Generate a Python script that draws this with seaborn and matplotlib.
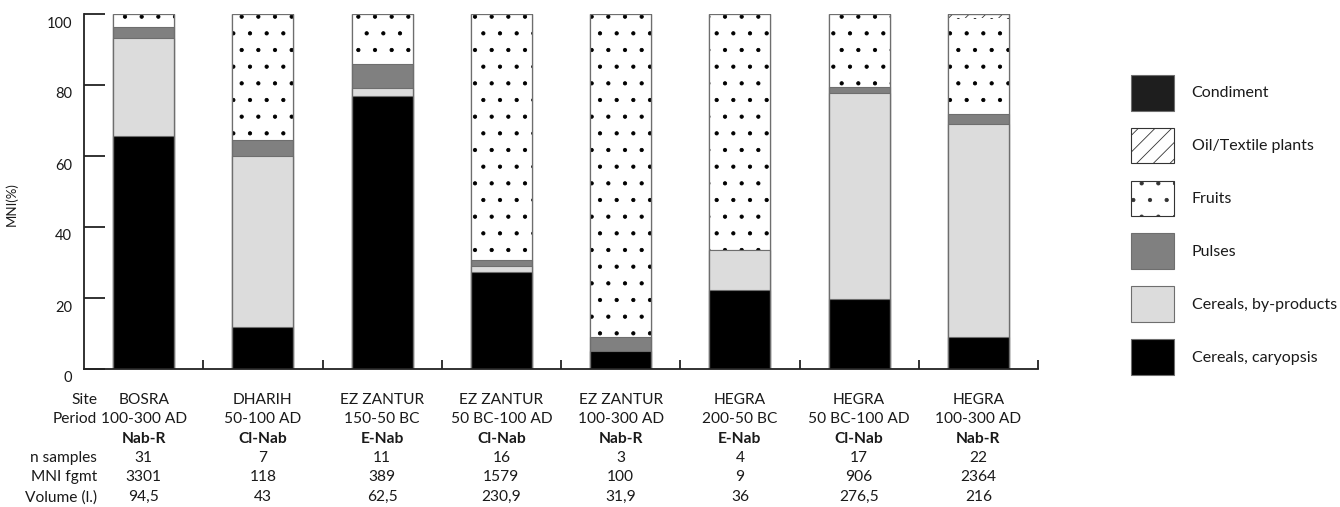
import numpy as np
import matplotlib
matplotlib.use("Agg")
import matplotlib.pyplot as plt
import matplotlib.transforms as mtransforms
from matplotlib.patches import Patch
import seaborn as sns

sites = ["BOSRA", "DHARIH", "EZ ZANTUR", "EZ ZANTUR", "EZ ZANTUR", "HEGRA", "HEGRA", "HEGRA"]
periods = ["100-300 AD", "50-100 AD", "150-50 BC", "50 BC-100 AD", "100-300 AD",
           "200-50 BC", "50 BC-100 AD", "100-300 AD"]
phases = ["Nab-R", "Cl-Nab", "E-Nab", "Cl-Nab", "Nab-R", "E-Nab", "Cl-Nab", "Nab-R"]
n_samples = ["31", "7", "11", "16", "3", "4", "17", "22"]
mni_fgmt = ["3301", "118", "389", "1579", "100", "9", "906", "2364"]
volume = ["94,5", "43", "62,5", "230,9", "31,9", "36", "276,5", "216"]

# MNI (%) per category, bottom to top
caryopsis = [65.7, 11.9, 77.0, 27.4, 5.1, 22.3, 19.7, 8.9]
byproducts = [27.6, 48.2, 2.1, 1.7, 0.0, 11.2, 58.0, 60.1]
pulses = [3.0, 4.4, 6.8, 1.6, 3.8, 0.0, 1.6, 2.7]
fruits = [3.7, 35.5, 14.1, 69.3, 91.1, 66.5, 20.7, 27.1]
oil_textile = [0, 0, 0, 0, 0, 0, 0, 1.2]
condiment = [0, 0, 0, 0, 0, 0, 0, 0]

sns.set_style("white")
plt.rcParams["font.family"] = ["Lato", "DejaVu Sans"]
plt.rcParams["hatch.linewidth"] = 0.6

EDGE = "#6e6e6e"
TXT = "#1a1a1a"
W = 0.51
FS = 11.2

keys = [f"{s} {p}" for s, p in zip(sites, periods)]
layers = [caryopsis, byproducts, pulses, fruits, oil_textile, condiment]
cum = np.cumsum(np.array(layers, dtype=float), axis=0)

fig = plt.figure(figsize=(13.4, 5.07), dpi=100)
ax = fig.add_axes([84 / 1340, 1 - 369 / 507, 954 / 1340, 355 / 507])

common = dict(x=keys, order=keys, width=W, errorbar=None, saturation=1, ax=ax)
# draw from top layer down so each lower layer covers the upper ones
sns.barplot(y=cum[5], color="#1e1e1e", edgecolor=EDGE, linewidth=0.8, **common)
sns.barplot(y=cum[4], color="white", edgecolor="#333333", linewidth=0.8, hatch="//", **common)
sns.barplot(y=cum[3], color="white", edgecolor="black", linewidth=0, hatch=".", **common)
sns.barplot(y=cum[2], color="#808080", edgecolor=EDGE, linewidth=0.8, **common)
sns.barplot(y=cum[1], color="#dcdcdc", edgecolor=EDGE, linewidth=0.8, **common)
sns.barplot(y=cum[0], color="black", edgecolor=EDGE, linewidth=0.8, **common)
sns.barplot(y=cum[5], color=EDGE, fill=False, linewidth=0.9, **common)

ax.set_xlim(-0.5, 7.5)
ax.set_ylim(0, 100)
ax.set_xticks(np.arange(8) + 0.5)
ax.set_xticklabels([])
ax.set_yticks([0, 20, 40, 60, 80, 100])
ax.set_xlabel("")
ax.set_ylabel("MNI(%)", fontsize=9.5, color=TXT)
ax.yaxis.set_label_coords(-0.069, 0.465)
ax.tick_params(axis="y", left=True, direction="in", length=15, width=1.3, color="#222222",
               labelsize=10.5, labelcolor=TXT, pad=8.5)
ax.tick_params(axis="x", bottom=True, direction="in", length=6.5, width=1.3, color="#222222")
for side in ["top", "right"]:
    ax.spines[side].set_visible(False)
for side in ["left", "bottom"]:
    ax.spines[side].set_linewidth(1.3)
    ax.spines[side].set_color("#222222")

shift = mtransforms.ScaledTranslation(0, -8 / 100, fig.dpi_scale_trans)
for lab in ax.get_yticklabels():
    lab.set_transform(lab.get_transform() + shift)

# table under the bars
tr = mtransforms.blended_transform_factory(ax.transData, ax.transAxes)
rows = [("Site", sites, "normal"), ("Period", periods, "normal"), ("", phases, "bold"),
        ("n samples", n_samples, "normal"), ("MNI fgmt", mni_fgmt, "normal"),
        ("Volume (l.)", volume, "normal")]
row_y = [-0.087, -0.141, -0.197, -0.250, -0.304, -0.361]
for (name, vals, weight), yy in zip(rows, row_y):
    if name:
        ax.text(0.0136, yy, name, transform=ax.transAxes, ha="right", va="center",
                fontsize=FS, color=TXT)
    for i, v in enumerate(vals):
        ax.text(i, yy, v, transform=tr, ha="center", va="center", fontsize=FS,
                fontweight=weight, color=TXT)

handles = [
    Patch(facecolor="#1e1e1e", edgecolor=EDGE, linewidth=0.8, label="Condiment"),
    Patch(facecolor="white", edgecolor="#333333", linewidth=0.8, hatch="//", label="Oil/Textile plants"),
    Patch(facecolor="white", edgecolor="#333333", linewidth=0.8, hatch=".", label="Fruits"),
    Patch(facecolor="#808080", edgecolor=EDGE, linewidth=0.8, label="Pulses"),
    Patch(facecolor="#dcdcdc", edgecolor=EDGE, linewidth=0.8, label="Cereals, by-products"),
    Patch(facecolor="black", edgecolor=EDGE, linewidth=0.8, label="Cereals, caryopsis"),
]
fig.legend(handles=handles, loc="upper left", bbox_to_anchor=(1131 / 1340, 1 - 75 / 507),
           frameon=False, fontsize=11.5, handlelength=2.7, handleheight=3.05,
           labelspacing=1.08, handletextpad=1.1, borderpad=0, borderaxespad=0,
           labelcolor=TXT)

fig.savefig("out.png", dpi=100)
